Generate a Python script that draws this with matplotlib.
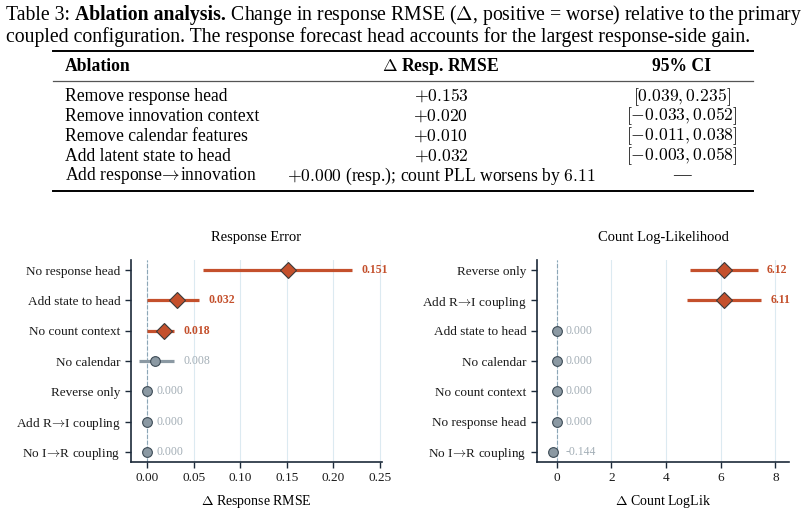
import matplotlib
matplotlib.use('Agg')
import matplotlib.pyplot as plt
import numpy as np

plt.rcParams['font.family'] = ['Liberation Serif', 'DejaVu Serif']
plt.rcParams['mathtext.fontset'] = 'cm'

ARR = "$\\!\\rightarrow\\!$"

# table data
tab_rows = ["Remove response head", "Remove innovation context", "Remove calendar features",
            "Add latent state to head", "Add response" + ARR + "innovation"]
tab_delta = ["$+0.153$", "$+0.020$", "$+0.010$", "$+0.032$",
             "$+0.000$ (resp.); count PLL worsens by $6.11$"]
tab_ci = ["$[0.039,0.235]$", "$[-0.033,0.052]$", "$[-0.011,0.038]$",
          "$[-0.003,0.058]$", "\u2014"]

# left panel: response error
left_labels = ["No response head", "Add state to head", "No count context", "No calendar",
               "Reverse only", "Add R" + ARR + "I coupling", "No I" + ARR + "R coupling"]
left_est = [0.151, 0.032, 0.018, 0.008, 0.0, 0.0, 0.0]
left_lo = [0.060, 0.000, 0.000, -0.009, 0.0, 0.0, 0.0]
left_hi = [0.220, 0.056, 0.029, 0.029, 0.0, 0.0, 0.0]
left_sig = [True, True, True, False, False, False, False]

# right panel: count log-likelihood
right_labels = ["Reverse only", "Add R" + ARR + "I coupling", "Add state to head", "No calendar",
                "No count context", "No response head", "No I" + ARR + "R coupling"]
right_est = [6.12, 6.11, 0.0, 0.0, 0.0, 0.0, -0.144]
right_lo = [4.88, 4.78, 0.0, 0.0, 0.0, 0.0, -0.144]
right_hi = [7.35, 7.47, 0.0, 0.0, 0.0, 0.0, -0.144]
right_sig = [True, True, False, False, False, False, False]

RED = '#c4502c'
GREY = '#8b99a3'
GREY_TXT = '#a3aeb6'
NAVY = '#1c2a3a'

W, H = 806, 513
fig = plt.figure(figsize=(W / 100, H / 100), dpi=100)


def fx(x):
    return x / W


def fy(y):
    return 1 - y / H


# caption with bold part
renderer = fig.canvas.get_renderer()
x0 = 6
for txt, wt in [("Table 3: ", 'normal'), ("Ablation analysis.", 'bold'),
                (" Change in response RMSE ($\\Delta$, positive = worse) relative to the primary", 'normal')]:
    t = fig.text(fx(x0), fy(20), txt, fontsize=14.2, fontweight=wt, va='baseline', ha='left')
    bb = t.get_window_extent(renderer)
    x0 += bb.width
fig.text(fx(6), fy(42), "coupled configuration. The response forecast head accounts for the largest response-side gain.",
         fontsize=14.2, va='baseline', ha='left')

# table rules
line_ax = fig.add_axes([0, 0, 1, 1], facecolor='none')
line_ax.set_xlim(0, W)
line_ax.set_ylim(H, 0)
line_ax.axis('off')
line_ax.plot([53, 753], [51, 51], color='black', lw=1.4)
line_ax.plot([53, 753], [80.5, 80.5], color='#555555', lw=0.9)
line_ax.plot([53, 753], [190.5, 190.5], color='black', lw=1.4)

col_ab, col_d, col_ci = 65, 441, 682
fs_tab = 12.7
fig.text(fx(col_ab), fy(71), "Ablation", fontsize=fs_tab, fontweight='bold', va='baseline', ha='left')
fig.text(fx(col_d), fy(71), "$\\Delta$ Resp. RMSE", fontsize=fs_tab, fontweight='bold', va='baseline', ha='center')
fig.text(fx(col_ci), fy(71), "95% CI", fontsize=fs_tab, fontweight='bold', va='baseline', ha='center')
for i in range(len(tab_rows)):
    yb = 100.7 + i * 19.95
    fig.text(fx(col_ab), fy(yb), tab_rows[i], fontsize=fs_tab, va='baseline', ha='left')
    fig.text(fx(col_d), fy(yb), tab_delta[i], fontsize=fs_tab, va='baseline', ha='center')
    fig.text(fx(col_ci), fy(yb), tab_ci[i], fontsize=fs_tab, va='baseline', ha='center')


def forest(ax, labels, est, lo, hi, sig, xlim, ticks, off, title, xlabel, tickfmt):
    n = len(labels)
    ys = np.arange(n)[::-1]
    for xt in ticks:
        ax.axvline(xt, color='#dceaf1', lw=0.8, zorder=0)
    ax.axvline(0, color='#8ca6b6', lw=0.8, ls='--', zorder=1)
    for y, e, l, h, s in zip(ys, est, lo, hi, sig):
        col = RED if s else GREY
        if h > l:
            ax.plot([l, h], [y, y], color=col, lw=2.3, solid_capstyle='butt', zorder=2)
        if s:
            ax.plot(e, y, marker='D', ms=8.5, mfc=RED, mec='#3a3a3a', mew=0.8, zorder=3)
        else:
            ax.plot(e, y, marker='o', ms=7, mfc=GREY, mec='#3d4b56', mew=0.8, zorder=3)
        txt = f"{e:.2f}" if abs(e) >= 1 else f"{e:.3f}"
        ax.text(max(h, e, 0) + off, y, txt, va='center', ha='left', fontsize=8.5,
                color=RED if s else GREY_TXT, fontweight='bold' if s else 'normal')
    ax.set_yticks(ys)
    ax.set_yticklabels(labels, fontsize=9.5)
    ax.set_xticks(ticks)
    ax.set_xticklabels([tickfmt.format(t) for t in ticks], fontsize=9.5)
    ax.set_xlim(*xlim)
    ax.set_ylim(-0.33, n - 1 + 0.33)
    ax.set_title(title, fontsize=10.5, pad=14)
    ax.set_xlabel(xlabel, fontsize=10, labelpad=6)
    for sp in ['top', 'right']:
        ax.spines[sp].set_visible(False)
    for sp in ['left', 'bottom']:
        ax.spines[sp].set_color(NAVY)
        ax.spines[sp].set_linewidth(1.2)
    ax.tick_params(length=4, width=1, color=NAVY, labelcolor='#1a1a1a')


ax1 = fig.add_axes([fx(131), fy(462), (382 - 131) / W, (462 - 260) / H])
forest(ax1, left_labels, left_est, left_lo, left_hi, left_sig, (-0.0175, 0.2525),
       [0, 0.05, 0.10, 0.15, 0.20, 0.25], 0.01, "Response Error", "$\\Delta$ Response RMSE", "{:.2f}")

ax2 = fig.add_axes([fx(537), fy(462), (789 - 537) / W, (462 - 260) / H])
forest(ax2, right_labels, right_est, right_lo, right_hi, right_sig, (-0.72, 8.5),
       [0, 2, 4, 6, 8], 0.34, "Count Log-Likelihood", "$\\Delta$ Count LogLik", "{:.0f}")

fig.savefig('out.png', dpi=100)
